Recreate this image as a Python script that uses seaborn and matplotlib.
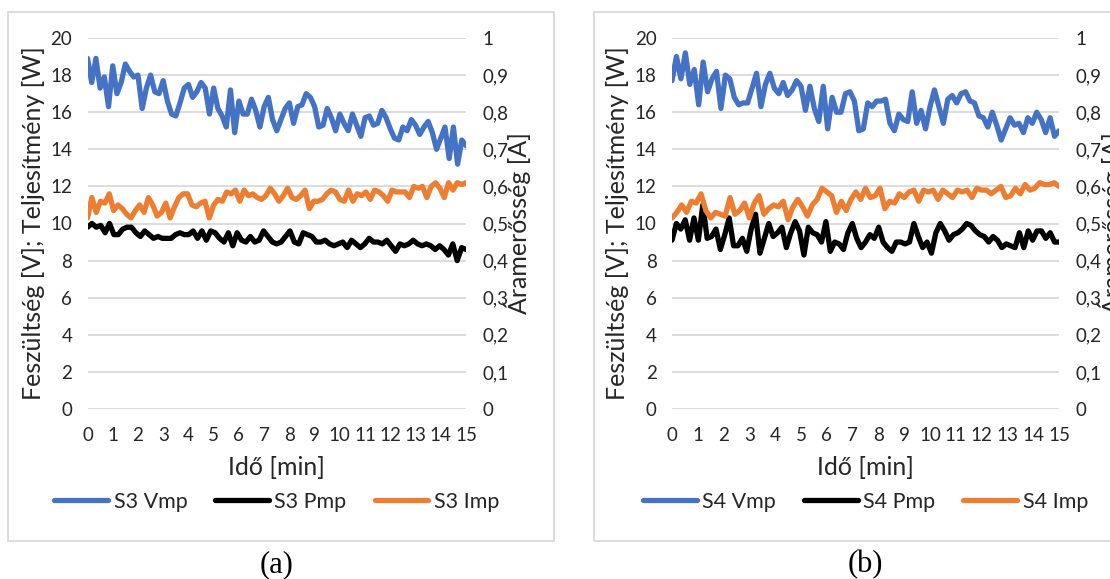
import numpy as np
import pandas as pd
import matplotlib
matplotlib.use("Agg")
import matplotlib.pyplot as plt
import seaborn as sns
from matplotlib.patches import Rectangle
from matplotlib.ticker import FuncFormatter

# ---------------- data ----------------
s3_vmp = [18.9, 17.6, 18.9, 17.3, 17.9, 16.3, 18.5, 17.0, 17.6, 18.6, 18.2, 17.9, 18.0, 16.2,
          17.3, 18.0, 17.1, 17.0, 17.7, 16.6, 15.9, 15.8, 16.5, 17.3, 17.5, 16.8, 17.1, 17.6,
          17.3, 15.9, 17.3, 16.2, 15.8, 15.2, 17.2, 14.9, 16.6, 15.9, 15.9, 16.7, 16.1, 15.2,
          16.3, 16.8, 15.6, 15.0, 15.6, 16.2, 16.5, 15.4, 16.3, 16.4, 17.0, 16.8, 16.3, 15.2,
          15.3, 16.2, 15.7, 15.0, 15.9, 15.4, 15.0, 15.9, 15.3, 14.7, 15.7, 15.8, 15.3, 15.4,
          16.1, 15.7, 15.1, 14.6, 14.5, 15.2, 15.0, 15.6, 15.3, 14.8, 15.2, 15.5, 14.9, 14.0,
          14.6, 15.2, 13.5, 15.2, 13.2, 14.5, 14.2]
s3_pmp = [9.8, 10.0, 9.8, 9.9, 9.5, 10.0, 9.4, 9.4, 9.7, 9.8, 9.8, 9.5, 9.3, 9.6, 9.4, 9.2,
          9.3, 9.2, 9.2, 9.2, 9.4, 9.5, 9.4, 9.4, 9.6, 9.2, 9.6, 9.1, 9.6, 9.5, 9.2, 9.0, 9.5,
          8.8, 9.5, 9.1, 9.0, 9.3, 9.0, 9.1, 9.6, 9.3, 9.0, 8.9, 9.0, 9.3, 9.6, 9.0, 8.9, 9.5,
          9.4, 9.3, 9.0, 9.0, 9.1, 8.9, 8.8, 8.9, 9.0, 8.7, 9.1, 8.9, 8.7, 8.9, 9.2, 9.0, 9.0,
          8.9, 9.1, 8.8, 8.5, 8.9, 8.8, 8.9, 9.1, 8.9, 8.8, 8.9, 8.8, 8.6, 8.8, 8.6, 8.3, 8.9,
          8.0, 8.7, 8.6]
s3_imp = [0.515, 0.57, 0.53, 0.56, 0.555, 0.58, 0.535, 0.55, 0.54, 0.525, 0.515, 0.535, 0.55,
          0.53, 0.57, 0.55, 0.52, 0.53, 0.555, 0.515, 0.545, 0.57, 0.58, 0.58, 0.55, 0.545,
          0.555, 0.56, 0.515, 0.55, 0.565, 0.56, 0.585, 0.58, 0.59, 0.56, 0.59, 0.575, 0.58,
          0.57, 0.565, 0.575, 0.595, 0.58, 0.56, 0.575, 0.595, 0.57, 0.565, 0.575, 0.59, 0.54,
          0.56, 0.56, 0.565, 0.58, 0.59, 0.585, 0.565, 0.56, 0.59, 0.56, 0.58, 0.575, 0.585,
          0.565, 0.59, 0.585, 0.575, 0.56, 0.59, 0.585, 0.585, 0.585, 0.57, 0.60, 0.595, 0.60,
          0.57, 0.60, 0.61, 0.595, 0.57, 0.61, 0.59, 0.61, 0.605, 0.61]

s4_vmp = [17.7, 19.0, 17.8, 19.2, 17.5, 18.3, 16.4, 18.7, 17.1, 17.8, 18.2, 16.2, 18.0, 17.8,
          16.8, 16.4, 16.5, 16.5, 17.3, 18.1, 16.3, 17.5, 18.1, 17.3, 17.0, 17.6, 16.9, 17.2,
          17.7, 17.4, 16.1, 17.4, 16.2, 15.5, 17.4, 15.1, 16.8, 16.0, 16.0, 17.0, 17.1, 16.6,
          15.0, 15.1, 16.5, 16.3, 16.6, 16.6, 16.7, 15.4, 15.0, 15.9, 15.6, 15.5, 17.1, 15.4,
          16.1, 15.1, 16.3, 17.2, 16.3, 15.4, 16.7, 16.9, 16.5, 17.0, 17.1, 16.6, 16.5, 15.8,
          15.7, 15.2, 16.0, 15.3, 14.5, 15.1, 15.7, 15.3, 15.4, 14.9, 15.7, 15.4, 16.0, 15.6,
          14.9, 15.7, 14.7, 15.0]
s4_pmp = [9.1, 10.0, 9.7, 10.2, 9.1, 10.3, 9.1, 11.0, 9.2, 9.3, 9.7, 8.6, 9.4, 10.3, 8.8, 8.8,
          9.2, 8.5, 9.7, 10.5, 8.4, 9.2, 10.0, 9.3, 9.5, 9.8, 8.7, 9.5, 10.1, 9.6, 8.3, 9.8,
          9.5, 9.4, 9.0, 10.1, 8.5, 9.0, 8.9, 8.6, 9.5, 10.0, 9.2, 8.7, 9.0, 9.4, 9.2, 9.8, 9.0,
          8.7, 8.5, 9.0, 9.0, 8.9, 9.0, 10.0, 9.3, 8.7, 9.0, 8.4, 9.5, 10.0, 9.6, 9.1, 9.4, 9.5,
          9.7, 10.0, 9.9, 9.6, 9.4, 9.3, 9.0, 9.3, 9.1, 8.7, 8.9, 8.8, 8.7, 9.5, 8.7, 9.6, 9.1,
          9.6, 9.6, 9.2, 9.5, 9.0, 9.0]
s4_imp = [0.515, 0.53, 0.55, 0.53, 0.56, 0.555, 0.58, 0.535, 0.515, 0.53, 0.525, 0.52, 0.57,
          0.525, 0.535, 0.555, 0.515, 0.555, 0.575, 0.525, 0.54, 0.55, 0.545, 0.56, 0.51,
          0.545, 0.565, 0.545, 0.52, 0.55, 0.565, 0.595, 0.585, 0.575, 0.53, 0.56, 0.535,
          0.565, 0.585, 0.565, 0.595, 0.57, 0.575, 0.595, 0.54, 0.56, 0.555, 0.58, 0.57, 0.585,
          0.59, 0.56, 0.59, 0.585, 0.59, 0.565, 0.59, 0.58, 0.57, 0.59, 0.585, 0.59, 0.57,
          0.595, 0.59, 0.59, 0.58, 0.59, 0.60, 0.57, 0.575, 0.595, 0.58, 0.605, 0.59, 0.595,
          0.61, 0.605, 0.605, 0.61, 0.60]

x_ticks = list(range(0, 16))
y_left_ticks = list(range(0, 21, 2))
y_right_ticks = [round(v * 0.1, 1) for v in range(0, 11)]
panel_names = [("S3 Vmp", "S3 Pmp", "S3 Imp"), ("S4 Vmp", "S4 Pmp", "S4 Imp")]
panel_tags = ["(a)", "(b)"]

BLUE, BLACK, ORANGE = "#4472C4", "#000000", "#ED7D31"
GRID = "#D9D9D9"
TXT = "#262626"

sns.set_style("white")
plt.rcParams['font.family'] = ['Lato', 'DejaVu Sans']

W, H = 1110, 579
fig = plt.figure(figsize=(W / 100, H / 100), dpi=100)


def series_df(vals):
    return pd.DataFrame({"t": np.linspace(0, 15, len(vals)), "v": vals})


def comma(v, pos):
    if abs(v - round(v)) < 1e-9:
        return f"{int(round(v))}"
    return f"{v:.1f}".replace(".", ",")


def panel(px0, px1, vmp, pmp, imp, names, tag, frame_x0, frame_x1):
    fig.patches.append(Rectangle((frame_x0 / W, 1 - 541 / H), (frame_x1 - frame_x0) / W,
                                 (541 - 12) / H, transform=fig.transFigure, fill=False,
                                 edgecolor=GRID, lw=1.3))
    ax = fig.add_axes([px0 / W, 1 - 409 / H, (px1 - px0) / W, (409 - 38) / H])
    ax2 = ax.twinx()
    lw = 3.8
    sns.lineplot(data=series_df(vmp), x="t", y="v", ax=ax, color=BLUE, lw=lw,
                 label=names[0], legend=False)
    sns.lineplot(data=series_df(pmp), x="t", y="v", ax=ax, color=BLACK, lw=lw,
                 label=names[1], legend=False)
    sns.lineplot(data=series_df(imp), x="t", y="v", ax=ax2, color=ORANGE, lw=lw,
                 label=names[2], legend=False)
    for a in (ax, ax2):
        for s in a.spines.values():
            s.set_visible(False)
        a.tick_params(length=0, labelsize=13.5, colors=TXT)
        a.set_xlim(0, 15)
    ax.set_ylim(0, 20)
    ax2.set_ylim(0, 1)
    ax.set_yticks(y_left_ticks)
    ax2.set_yticks(y_right_ticks)
    ax2.yaxis.set_major_formatter(FuncFormatter(comma))
    ax.set_xticks(x_ticks)
    ax.grid(axis="y", color=GRID, lw=1.3)
    ax.grid(axis="x", visible=False)
    ax2.grid(False)
    ax.set_axisbelow(True)
    ax.tick_params(axis="x", pad=13)
    ax.tick_params(axis="y", pad=11)
    ax2.tick_params(axis="y", pad=12)
    ax.set_xlabel("Idő [min]", fontsize=18, color=TXT)
    ax.set_ylabel("Feszültség [V]; Teljesítmény [W]", fontsize=18, color=TXT)
    ax2.set_ylabel("Áramerősség [A]", fontsize=18, color=TXT)
    ax.xaxis.set_label_coords(0.5, -0.128)
    ax.yaxis.set_label_coords(-0.112, 0.5)
    ax2.yaxis.set_label_coords(1.10, 0.5)
    h1, l1 = ax.get_legend_handles_labels()
    h2, l2 = ax2.get_legend_handles_labels()
    cx = (px0 + px1) / 2
    fig.legend(h1 + h2, l1 + l2, loc="center", bbox_to_anchor=(cx / W, 1 - 502 / H),
               ncol=3, frameon=False, fontsize=15.5, handlelength=2.5, handletextpad=0.25,
               columnspacing=1.3, labelcolor=TXT)
    fig.text(cx / W, 1 - 565 / H, tag, ha="center", va="center", fontsize=22,
             family="Liberation Serif", color="black")


panel(87.5, 466, s3_vmp, s3_pmp, s3_imp, panel_names[0], panel_tags[0], 8, 554)
panel(672, 1059, s4_vmp, s4_pmp, s4_imp, panel_names[1], panel_tags[1], 594, 1125)

fig.savefig("out.png", dpi=100)
